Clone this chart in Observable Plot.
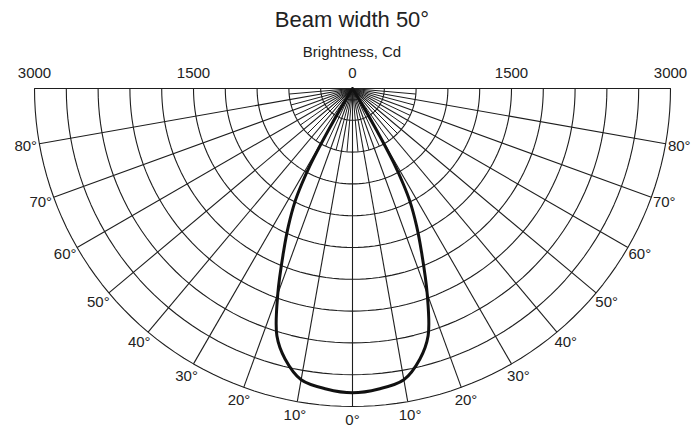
<!DOCTYPE html>
<html>
<head>
<meta charset="utf-8">
<script src="https://cdn.jsdelivr.net/npm/d3@7"></script>
<script src="https://cdn.jsdelivr.net/npm/@observablehq/plot@0.6"></script>
<style>
  html, body { margin: 0; padding: 0; background: #fff; }
  #wrap { position: relative; width: 697px; height: 427px; font-family: "Liberation Sans", Arial, sans-serif; color: #222; }
  #title { position: absolute; left: 7px; width: 690px; top: 7px; line-height: 26px; font-size: 22px; text-align: center; }
  #subtitle { position: absolute; left: 7px; width: 690px; top: 43px; line-height: 18px; font-size: 15px; text-align: center; }
  #chart { position: absolute; left: 0; top: 60px; }
</style>
</head>
<body>
<div id="wrap">
  <div id="title">Beam width 50°</div>
  <div id="subtitle">Brightness, Cd</div>
  <div id="chart"></div>
</div>
<script>
// ---- data ----
const maxValue = 3000;
const rings = [300, 600, 900, 1200, 1500, 1800, 2100, 2400, 2700, 3000];
const radialTickValues = [-3000, -1500, 0, 1500, 3000];
const majorAngles = [-90, -80, -70, -60, -50, -40, -30, -20, -10, 0, 10, 20, 30, 40, 50, 60, 70, 80, 90];
const minorAngles = [-85, -75, -65, -55, -45, -35, -25, -15, -5, 5, 15, 25, 35, 45, 55, 65, 75, 85];
const minorRayLength = 600;
const angleLabels = [-80, -70, -60, -50, -40, -30, -20, -10, 0, 10, 20, 30, 40, 50, 60, 70, 80];
// luminous intensity (cd) versus angle from the axis (deg), symmetric beam
const curveAngles = [0, 5, 10, 14, 17, 20, 23, 25, 27, 28, 29, 30, 31, 32];
const curveValues = [2870, 2845, 2790, 2630, 2440, 2060, 1660, 1430, 1190, 1020, 800, 450, 150, 0];

// ---- helpers ----
const rad = d => d * Math.PI / 180;
const px = (a, r) => r * Math.sin(rad(a));
const py = (a, r) => -r * Math.cos(rad(a));

// ring arcs
const arcPts = [];
for (const r of rings) for (let a = -90; a <= 90; a += 2) arcPts.push({r, a});

// curve (mirrored)
const curve = [];
for (let i = curveAngles.length - 1; i >= 0; i--) curve.push({a: -curveAngles[i], v: curveValues[i]});
for (let i = 1; i < curveAngles.length; i++) curve.push({a: curveAngles[i], v: curveValues[i]});

const labelR = 3130;
const ink = "#1e1e1e";

const chart = Plot.plot({
  width: 697,
  height: 367,
  marginLeft: 34,
  marginRight: 27,
  marginTop: 28,
  marginBottom: 21,
  x: {domain: [-maxValue, maxValue], axis: null},
  y: {domain: [-maxValue, 0], axis: null},
  style: {fontFamily: '"Liberation Sans", Arial, sans-serif', fontSize: "15px", color: "#222", background: "#fff", overflow: "visible"},
  marks: [
    Plot.line(arcPts, {x: d => px(d.a, d.r), y: d => py(d.a, d.r), z: "r", stroke: ink, strokeWidth: 1.1}),
    Plot.link(majorAngles, {x1: 0, y1: 0, x2: a => px(a, maxValue), y2: a => py(a, maxValue), stroke: ink, strokeWidth: 1.1}),
    Plot.link(minorAngles, {x1: 0, y1: 0, x2: a => px(a, minorRayLength), y2: a => py(a, minorRayLength), stroke: ink, strokeWidth: 1}),
    Plot.line(curve, {x: d => px(d.a, d.v), y: d => py(d.a, d.v), curve: "catmull-rom", stroke: "#111", strokeWidth: 3}),
    Plot.text(radialTickValues, {x: d => d, y: 0, text: d => String(Math.abs(d)), dy: -15, fontSize: 15, fill: "#222"}),
    Plot.text(angleLabels, {x: a => px(a, labelR), y: a => py(a, labelR), text: a => Math.abs(a) + "°", fontSize: 15, fill: "#222"})
  ]
});
document.getElementById("chart").appendChild(chart);
</script>
</body>
</html>
